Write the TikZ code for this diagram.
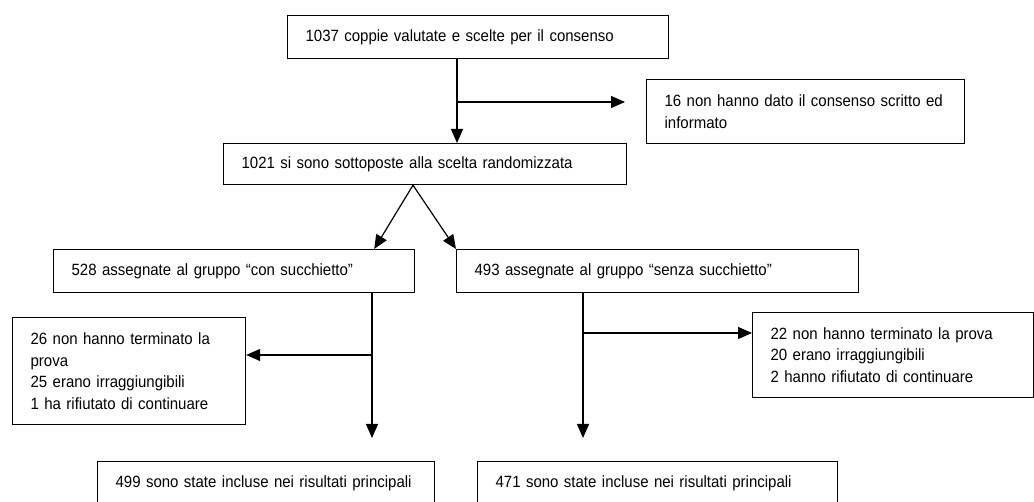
\documentclass[tikz,border=0pt]{standalone}
\usepackage{fontspec}
\setmainfont[FakeStretch=0.92]{Liberation Sans}
\usetikzlibrary{arrows.meta}
\hyphenpenalty=10000
\begin{document}
\begin{tikzpicture}[x=1pt,y=-1pt,line width=1.2pt,>={Triangle[length=14pt,width=12pt]},
cell/.style 2 args={draw,anchor=north west,inner xsep=18pt,inner ysep=0pt,align=left,text width=#1,minimum height=#2,font=\fontsize{16.3}{21.5}\selectfont},
flow/.style={->}]
\useasboundingbox (0,0) rectangle (1034,502);
\clip (0,0) rectangle (1034,502);
\node[cell={345pt}{43pt}] (A) at (287,15) {1037 coppie valutate e scelte per il consenso};
\node[cell={282pt}{64pt}] (C) at (646,79) {16 non hanno dato il consenso scritto ed\\informato};
\node[cell={367pt}{41pt}] (B) at (223,143) {1021 si sono sottoposte alla scelta randomizzata};
\node[cell={325pt}{43pt}] (D) at (53,249) {528 assegnate al gruppo “con succhietto”};
\node[cell={366pt}{43pt}] (E) at (456,249) {493 assegnate al gruppo “senza succhietto”};
\node[cell={197pt}{107pt}] (F) at (12,317) {26 non hanno terminato la\\prova\\25 erano irraggiungibili\\1 ha rifiutato di continuare};
\node[cell={245pt}{85pt}] (G) at (752,312) {22 non hanno terminato la prova\\20 erano irraggiungibili\\2 hanno rifiutato di continuare};
\node[cell={301pt}{43pt}] (H) at (97,461) {499 sono state incluse nei risultati principali};
\node[cell={324pt}{43pt}] (I) at (477,461) {471 sono state incluse nei risultati principali};
\coordinate (a1) at (457,102);
\draw[flow] (A.south -| a1) -- (B.north -| a1);
\draw[flow,shorten >=21pt] (a1) -- (C.west |- a1);
\coordinate (b1) at (413,184);
\draw[flow] (B.south -| b1) -- ([xshift=-41pt]D.north east);
\draw[flow] (B.south -| b1) -- (E.north west);
\coordinate (d1) at (372,355);
\draw[flow,shorten >=23pt] (D.south -| d1) -- (H.north -| d1);
\draw[flow] (d1) -- (F.east |- d1);
\coordinate (e1) at (583,333);
\draw[flow,shorten >=23pt] (E.south -| e1) -- (I.north -| e1);
\draw[flow] (e1) -- (G.west |- e1);
\end{tikzpicture}
\end{document}
